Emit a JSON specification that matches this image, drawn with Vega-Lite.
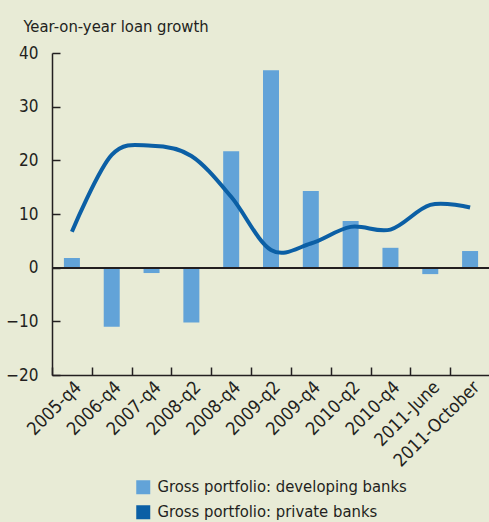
{
  "$schema": "https://vega.github.io/schema/vega-lite/v6.json",
  "autosize": "none",
  "width": 438,
  "height": 322,
  "padding": {"left": 52, "top": 53, "right": 0, "bottom": 147},
  "background": "#e8ebd6",
  "config": {
    "view": {"stroke": null},
    "font": "DejaVu Sans Condensed, sans-serif",
    "axis": {
      "labelFont": "DejaVu Sans Condensed, sans-serif",
      "titleFont": "DejaVu Sans Condensed, sans-serif",
      "labelFontSize": 17,
      "titleFontSize": 16.5,
      "titleFontWeight": "normal",
      "labelColor": "#231f20",
      "titleColor": "#231f20",
      "domainColor": "#231f20",
      "tickColor": "#231f20",
      "domainWidth": 1.5,
      "tickWidth": 1.5,
      "grid": false
    },
    "legend": {
      "labelFont": "DejaVu Sans Condensed, sans-serif",
      "labelFontSize": 16.5,
      "labelColor": "#231f20",
      "labelLimit": 400
    }
  },
  "data": {
    "values": [
      {"period": "2005-q4", "series": "Gross portfolio: developing banks", "value": 1.8},
      {"period": "2006-q4", "series": "Gross portfolio: developing banks", "value": -11.0},
      {"period": "2007-q4", "series": "Gross portfolio: developing banks", "value": -1.0},
      {"period": "2008-q2", "series": "Gross portfolio: developing banks", "value": -10.2},
      {"period": "2008-q4", "series": "Gross portfolio: developing banks", "value": 21.7},
      {"period": "2009-q2", "series": "Gross portfolio: developing banks", "value": 36.8},
      {"period": "2009-q4", "series": "Gross portfolio: developing banks", "value": 14.3},
      {"period": "2010-q2", "series": "Gross portfolio: developing banks", "value": 8.7},
      {"period": "2010-q4", "series": "Gross portfolio: developing banks", "value": 3.7},
      {"period": "2011-June", "series": "Gross portfolio: developing banks", "value": -1.2},
      {"period": "2011-October", "series": "Gross portfolio: developing banks", "value": 3.1},
      {"period": "2005-q4", "series": "Gross portfolio: private banks", "value": 6.7},
      {"period": "2006-q4", "series": "Gross portfolio: private banks", "value": 21.0},
      {"period": "2007-q4", "series": "Gross portfolio: private banks", "value": 22.7},
      {"period": "2008-q2", "series": "Gross portfolio: private banks", "value": 20.8},
      {"period": "2008-q4", "series": "Gross portfolio: private banks", "value": 13.2},
      {"period": "2009-q2", "series": "Gross portfolio: private banks", "value": 3.3},
      {"period": "2009-q4", "series": "Gross portfolio: private banks", "value": 4.5},
      {"period": "2010-q2", "series": "Gross portfolio: private banks", "value": 7.6},
      {"period": "2010-q4", "series": "Gross portfolio: private banks", "value": 7.1},
      {"period": "2011-June", "series": "Gross portfolio: private banks", "value": 11.7},
      {"period": "2011-October", "series": "Gross portfolio: private banks", "value": 11.2}
    ]
  },
  "encoding": {
    "x": {
      "field": "period",
      "type": "ordinal",
      "sort": null,
      "scale": {"paddingInner": 0, "paddingOuter": 0},
      "axis": {
        "title": null,
        "labelAngle": -45,
        "tickBand": "extent",
        "tickSize": -8,
        "labelPadding": 11,
        "labelFontSize": 18
      }
    },
    "y": {
      "field": "value",
      "type": "quantitative",
      "scale": {"domain": [-20, 40], "nice": false, "zero": false},
      "axis": {
        "title": "Year-on-year loan growth",
        "titleAngle": 0,
        "titleAlign": "left",
        "titleBaseline": "alphabetic",
        "titleX": -29,
        "titleY": -22,
        "values": [-20, -10, 0, 10, 20, 30, 40],
        "tickSize": -8,
        "labelPadding": 22
      }
    },
    "color": {
      "field": "series",
      "type": "nominal",
      "scale": {
        "domain": ["Gross portfolio: developing banks", "Gross portfolio: private banks"],
        "range": ["#62a3d8", "#0b5fa5"]
      },
      "legend": {
        "title": null,
        "orient": "none",
        "legendX": 83,
        "legendY": 426,
        "direction": "vertical",
        "symbolType": "square",
        "symbolSize": 196,
        "symbolStrokeWidth": 0,
        "labelOffset": 6,
        "rowPadding": 8,
        "padding": 0,
        "encode": {
          "symbols": {
            "update": {
              "fill": {"scale": "color", "field": "value"},
              "stroke": {"value": "transparent"},
              "opacity": {"value": 1}
            }
          }
        }
      }
    }
  },
  "layer": [
    {
      "transform": [{"filter": "datum.series === 'Gross portfolio: developing banks'"}],
      "mark": {"type": "bar", "size": 16}
    },
    {
      "mark": {"type": "rule", "color": "#231f20", "strokeWidth": 1.5},
      "encoding": {"y": {"datum": 0}, "x": null, "color": null}
    },
    {
      "transform": [{"filter": "datum.series === 'Gross portfolio: private banks'"}],
      "mark": {"type": "line", "interpolate": "cardinal", "strokeWidth": 4}
    }
  ]
}
